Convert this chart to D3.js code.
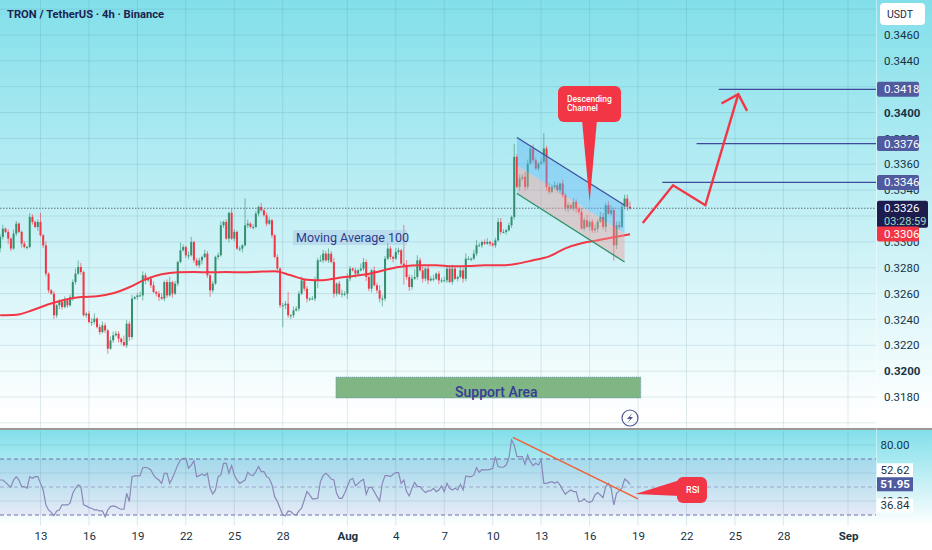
<!DOCTYPE html>
<html>
<head>
<meta charset="utf-8">
<script src="https://cdnjs.cloudflare.com/ajax/libs/d3/7.8.5/d3.min.js"></script>
<style>
  html, body { margin: 0; padding: 0; background: #fff; }
  svg { display: block; }
  text { font-family: Roboto, "Noto Sans", sans-serif; }
</style>
</head>
<body>
<svg id="chart" width="932" height="550"></svg>
<script>
// 4h candles. open = previous close
const firstCandle = '2025-07-10T12:00:00Z';
const closes = [
  .33038,.33102,.33077,.33025,.32948,.33064,.33141,.33077,.32986,.32960,
  .32960,.33193,.33154,.33115,.33154,.33051,.32973,.32754,.32625,.32599,
  .32432,.32509,.32535,.32496,.32548,.32509,.32573,.32689,.32754,.32806,
  .32767,.32432,.32445,.32380,.32380,.32406,.32341,.32302,.32354,.32315,
  .32174,.32238,.32277,.32290,.32251,.32225,.32199,.32367,.32264,.32561,
  .32573,.32586,.32586,.32741,.32702,.32715,.32664,.32612,.32599,.32573,
  .32561,.32689,.32586,.32689,.32599,.32677,.32844,.32935,.32960,.32896,
  .32896,.32999,.32857,.32819,.32857,.32883,.32909,.32741,.32625,.32677,
  .32883,.32896,.33128,.33154,.33025,.33224,.33025,.33077,.32948,.32948,
  .32973,.33128,.33141,.33115,.33115,.33218,.33270,.33244,.33206,.33141,
  .33167,.33051,.32883,.32793,.32509,.32509,.32522,.32432,.32432,.32470,
  .32483,.32599,.32702,.32638,.32561,.32561,.32561,.32702,.32857,.32857,
  .32909,.32857,.32909,.32844,.32599,.32677,.32599,.32599,.32599,.32715,
  .32793,.32780,.32754,.32780,.32793,.32844,.32728,.32638,.32780,.32664,
  .32625,.32561,.32561,.32870,.32948,.32883,.32870,.32922,.32935,.32831,
  .32819,.32728,.32651,.32715,.32728,.32857,.32780,.32715,.32793,.32702,
  .32715,.32715,.32754,.32702,.32702,.32702,.32793,.32690,.32793,.32715,
  .32728,.32780,.32715,.32870,.32870,.32870,.32909,.32973,.32973,.32999,
  .32986,.32999,.32986,.32973,.33012,.33154,.33077,.33077,.33090,.33128,
  .33193,.33658,.33425,.33490,.33503,.33425,.33606,.33722,.33632,.33567,
  .33606,.33619,.33722,.33425,.33387,.33425,.33438,.33400,.33451,.33361,
  .33258,.33284,.33258,.33309,.33258,.33232,.33103,.33168,.33116,.33155,
  .33090,.33103,.33155,.33193,.33116,.33284,.33219,.33245,.32974,.33129,
  .33116,.33271,.33335,.33271,.33258
];
// wicks in ticks of 0.0001 above / below the candle body
const upperWicks = [
  2,3,1,2,1,3,2,1,1,2, 1,3,2,1,2,7,1,3,1,1, 2,1,2,1,3,1,2,2,4,5,
  3,1,1,2,3,4,1,2,3,2, 1,3,3,2,2,1,5,3,2,3, 1,2,3,3,2,1,2,3,1,2,
  3,1,2,4,1,2,1,6,2,1, 3,4,1,2,2,1,3,2,1,2, 1,2,3,1,2,1,3,2,1,2,
  1,21,3,1,2,2,1,3,1,2, 2,1,1,2,1,2,2,9,1,3, 2,2,3,1,2,1,2,3,2,4,
  3,2,4,2,3,1,2,3,2,4, 2,1,2,1,4,3,2,2,1,3, 2,4,3,2,5,2,1,3,2,1,
  30,4,2,3,6,4,2,3,1,2, 2,3,1,2,2,3,2,1,3,2, 1,3,2,4,2,1,3,4,2,1,
  2,3,1,1,2,3,3,2,1,2, 1,10,2,3,2,4,3,2,3,2, 1,3,12,2,3,2,3,2,1,3,
  2,2,1,3,2,1,3,2,4,1, 2,3,2,4,3,2,3,4,2,3, 3,3,3,3,4
];
const lowerWicks = [
  3,2,1,4,2,1,2,1,3,1, 2,1,2,1,3,1,2,2,2,1, 3,2,3,2,1,2,1,3,2,1,
  2,1,2,1,3,2,1,2,1,2, 4,1,2,1,3,2,1,2,3,2, 1,2,1,4,3,1,2,1,2,3,
  1,2,2,1,3,1,2,1,1,2, 3,1,2,1,2,3,1,2,5,2, 1,2,1,2,1,3,1,2,1,2,
  3,1,2,1,2,1,2,1,1,2, 1,2,1,2,2,17,3,2,3,2, 1,2,1,2,3,2,1,2,6,1,
  2,1,2,1,3,2,1,3,2,4, 2,1,3,2,1,2,3,2,3,1, 2,3,6,2,1,2,3,1,2,1,
  15,2,3,2,1,2,1,3,2,3, 1,2,1,3,2,1,2,1,2,1, 2,1,3,2,1,2,1,2,1,2,
  1,1,2,1,2,1,2,1,2,1, 2,2,1,3,2,3,2,1,2,1, 2,1,2,3,2,1,2,2,3,2,
  2,3,1,2,3,2,1,2,1,3, 2,2,3,1,2,4,1,2,12,3, 2,1,2,3,1
];

// moving average 100, one reading per day at 12:00
const maFirstDay = '2025-07-10T12:00:00Z';
const maValues = [
  .32432,.32436,.32471,.32517,.32552,.32573,.32579,.32602,.32649,.32710,
  .32749,.32765,.32767,.32764,.32766,.32765,.32769,.32772,.32741,.32707,
  .32703,.32722,.32738,.32757,.32788,.32811,.32819,.32819,.32811,.32813,
  .32819,.32819,.32830,.32858,.32888,.32950,.32989,.33012,.33036,.33059
];

// RSI, one value per candle
const rsiValues = [
  55,55,53.3,51.5,49.8,55,57.4,55,50.3,50.3,
  49.1,57.4,56.2,57.4,57.4,52.6,47.9,37.2,33.6,31.9,
  29.5,32.9,33.6,37.2,37.2,37.2,38.4,45.5,49.1,51.5,
  50.3,37.2,36.5,35.3,34.8,33.6,33.6,32.9,32.9,28.8,
  33.6,36,36.5,36,34.8,34.1,34.1,45.5,39.6,57.4,
  57.9,57.9,58.1,63.8,64.1,63.4,62.2,58.6,56.2,55,
  52.6,59.8,59.8,52.6,56.2,61,65.7,69.3,70.5,70.5,
  63.4,65.7,68.6,57.4,58.1,59.3,58.1,59.8,49.1,45,
  47.9,57.4,58.6,66.9,66.9,59.8,65.3,58.6,55,52.6,
  53.8,55,60.5,58.6,58.1,61,64.6,61,61,57.4,
  56.2,51.5,43.1,39.6,34.8,30,29.5,32.9,32.4,30.5,
  30,32.9,34.8,40.7,46.7,44.3,41.5,41.5,41.9,53.8,
  58.1,59.8,58.1,55.7,
  55,45.5,41.9,41.9,45.5,50.3,55,56.2,
  50.7,52.6,54.3,55.5,44.8,49.8,49.8,46.7,43.1,40,
  52.6,58.1,58.1,57.4,59.1,60.3,60.3,52.6,55,46.7,
  43.6,49.1,53.3,50.3,50.3,47.9,46,47.2,47.4,49.1,
  46.7,47.9,50.7,46.7,52.6,49.1,47.9,49.1,47.9,51.9,
  47.9,57.9,57.4,57.4,58.6,63.8,60.5,62.4,62.2,62.2,
  62.6,63.4,71.7,64.6,64.1,64.1,65.7,70.5,83.6,80,
  71.7,71.7,71.7,66.2,72.9,68.1,65.3,66.9,65.7,69.3,
  52.6,52.6,53.3,53.8,52.6,53.8,51.5,47.9,44.8,46.7,
  47.9,46.7,46.7,39.6,40,41.5,39.6,39.1,40,44.3,
  46,44.3,42.4,50.3,52.6,49.1,37.2,45.5,47.2,49.1,
  55.7,54.3,51.95
];

const dateTicks = ['2025-07-13','2025-07-16','2025-07-19','2025-07-22','2025-07-25','2025-07-28',
  '2025-08-01','2025-08-04','2025-08-07','2025-08-10','2025-08-13','2025-08-16','2025-08-19',
  '2025-08-22','2025-08-25','2025-08-28','2025-09-01'];
const priceTicks = [.346,.344,.342,.340,.338,.336,.334,.332,.330,.328,.326,.324,.322,.320,.318];
const boldPrices = [.340,.320];
const rsiGrid = [80,60,40];

// drawings on the chart
const channelDates = ['2025-08-11T12:00:00Z','2025-08-18T04:00:00Z'];
const channelUpper = [.33807,.33283];
const channelMiddle = [.33593,.33066];
const channelLower = [.33374,.32844];
const targetPrices = [.3418,.3376,.3346];
const targetStarts = ['2025-08-24T00:00:00Z','2025-08-22T15:00:00Z','2025-08-20T12:00:00Z'];
const forecastDates = ['2025-08-19T07:00:00Z','2025-08-21T04:00:00Z','2025-08-23T04:00:00Z','2025-08-25T05:00:00Z'];
const forecastPrices = [.33146,.33438,.33283,.34142];
const arrowDates = ['2025-08-24T04:00:00Z','2025-08-25T05:00:00Z','2025-08-25T18:00:00Z'];
const arrowPrices = [.34070,.34142,.34013];
const supportDates = ['2025-07-31T07:00:00Z','2025-08-19T04:00:00Z'];
const supportPrices = [.31954,.31792];
const rsiTrendDates = ['2025-08-11T06:00:00Z','2025-08-19T00:00:00Z'];
const rsiTrendValues = [85.5,41.5];

const lastPrice = .3326, maPrice = .3306;

const svg = d3.select('#chart');
const axisX = 876;
const x = d3.scaleUtc().domain([new Date('2025-07-13'), new Date('2025-09-01')]).range([40.5, 848]);
const y = d3.scaleLinear().domain([.346, .318]).range([35, 397]);
const r = d3.scaleLinear().domain([70, 30]).range([459, 515]);

const defs = svg.append('defs');
function vGradient(id, y1, y2, top) {
  const g = defs.append('linearGradient').attr('id', id).attr('gradientUnits', 'userSpaceOnUse')
    .attr('x1', 0).attr('x2', 0).attr('y1', y1).attr('y2', y2);
  g.append('stop').attr('offset', 0).attr('stop-color', top);
  g.append('stop').attr('offset', 1).attr('stop-color', '#ffffff');
}
vGradient('mainBg', 0, 415, '#82dfea');
vGradient('rsiBg', 430, 526, '#82dfea');

svg.append('rect').attr('width', 932).attr('height', 429).attr('fill', 'url(#mainBg)');
svg.append('rect').attr('y', 430).attr('width', 932).attr('height', 120).attr('fill', 'url(#rsiBg)');

// grid
const dates = dateTicks.map(d => new Date(d));
const gridCol = 'rgba(70,130,150,0.17)';
svg.append('g').selectAll('line').data(dates).join('line')
  .attr('x1', d => x(d)).attr('x2', d => x(d)).attr('y1', 0).attr('y2', 428)
  .attr('stroke', gridCol);
svg.append('g').selectAll('line').data(dates).join('line')
  .attr('x1', d => x(d)).attr('x2', d => x(d)).attr('y1', 431).attr('y2', 526)
  .attr('stroke', gridCol);
svg.append('g').selectAll('line').data(priceTicks.concat([.348, .316])).join('line')
  .attr('x1', 0).attr('x2', axisX).attr('y1', d => y(d)).attr('y2', d => y(d))
  .attr('stroke', gridCol);
svg.append('g').selectAll('line').data(rsiGrid).join('line')
  .attr('x1', 0).attr('x2', axisX).attr('y1', d => r(d)).attr('y2', d => r(d))
  .attr('stroke', gridCol);

// candles
const step = 4 * 3600 * 1000;
const t0 = new Date(firstCandle).getTime();
const candles = closes.map((c, i) => {
  const o = i ? closes[i - 1] : .3295;
  return {
    date: new Date(t0 + i * step), o, c,
    h: Math.max(o, c) + upperWicks[i] * .0001,
    l: Math.min(o, c) - lowerWicks[i] * .0001
  };
});
const upCol = '#33906f', downCol = '#f23645';
const candleG = svg.append('g');
candleG.selectAll('line').data(candles).join('line')
  .attr('x1', d => x(d.date)).attr('x2', d => x(d.date))
  .attr('y1', d => y(d.h)).attr('y2', d => y(d.l))
  .attr('stroke', d => d.c >= d.o ? upCol : downCol)
  .attr('stroke-opacity', 0.6).attr('stroke-width', 1);
candleG.selectAll('rect').data(candles).join('rect')
  .attr('x', d => x(d.date) - 1)
  .attr('width', 2)
  .attr('y', d => y(Math.max(d.o, d.c)))
  .attr('height', d => Math.max(1, Math.abs(y(d.o) - y(d.c))))
  .attr('fill', d => d.c >= d.o ? upCol : downCol);

// moving average
const maStart = new Date(maFirstDay).getTime();
const maLine = d3.line().x((d, i) => x(new Date(maStart + i * 6 * step))).y(d => y(d)).curve(d3.curveMonotoneX);
svg.append('path').attr('d', maLine(maValues)).attr('fill', 'none')
  .attr('stroke', '#f23645').attr('stroke-width', 2);

// dotted last price line
svg.append('line').attr('x1', 0).attr('x2', axisX).attr('y1', y(lastPrice)).attr('y2', y(lastPrice))
  .attr('stroke', '#5f6f80').attr('stroke-width', 1).attr('stroke-dasharray', '1.5 1.5');

// descending channel
const cx = channelDates.map(d => x(new Date(d)));
function band(top, bottom) {
  return [[cx[0], y(top[0])], [cx[1], y(top[1])], [cx[1], y(bottom[1])], [cx[0], y(bottom[0])]];
}
svg.append('polygon').attr('points', band(channelUpper, channelMiddle).join(' '))
  .attr('fill', '#5cb6f5').attr('fill-opacity', 0.42);
svg.append('polygon').attr('points', band(channelMiddle, channelLower).join(' '))
  .attr('fill', '#ef9a9a').attr('fill-opacity', 0.42);
svg.append('line').attr('x1', cx[0]).attr('x2', cx[1]).attr('y1', y(channelUpper[0])).attr('y2', y(channelUpper[1]))
  .attr('stroke', '#3f4fa0').attr('stroke-width', 1.3);
svg.append('line').attr('x1', cx[0]).attr('x2', cx[1]).attr('y1', y(channelLower[0])).attr('y2', y(channelLower[1]))
  .attr('stroke', '#2f8f6b').attr('stroke-width', 1.3);

// targets
svg.append('g').selectAll('line').data(targetPrices).join('line')
  .attr('x1', (d, i) => x(new Date(targetStarts[i]))).attr('x2', axisX)
  .attr('y1', d => y(d)).attr('y2', d => y(d))
  .attr('stroke', '#3f4a9a').attr('stroke-width', 1.3);

// forecast arrow
const arrow = d3.line().x(d => x(new Date(d[0]))).y(d => y(d[1]));
svg.append('path').attr('d', arrow(d3.zip(forecastDates, forecastPrices)))
  .attr('fill', 'none').attr('stroke', '#f23645').attr('stroke-width', 2.4);
svg.append('path').attr('d', arrow(d3.zip(arrowDates, arrowPrices)))
  .attr('fill', 'none').attr('stroke', '#f23645').attr('stroke-width', 2.4);

// support area
const sx = supportDates.map(d => x(new Date(d)));
svg.append('rect').attr('x', sx[0]).attr('width', sx[1] - sx[0])
  .attr('y', y(supportPrices[0])).attr('height', y(supportPrices[1]) - y(supportPrices[0]))
  .attr('fill', '#80b584').attr('stroke', '#5f8fb0').attr('stroke-width', 0.7).attr('stroke-dasharray', '1 1');
svg.append('text').attr('x', (sx[0] + sx[1]) / 2 + 8).attr('y', 397).attr('text-anchor', 'middle')
  .attr('font-size', 14).attr('font-weight', 500).attr('fill', '#363c94').text('Support Area');

// moving average label
svg.append('rect').attr('x', 293).attr('y', 230).attr('width', 114).attr('height', 15)
  .attr('fill', '#a9c9e6').attr('fill-opacity', 0.5);
svg.append('text').attr('x', 296).attr('y', 242).attr('font-size', 12.5)
  .attr('fill', '#2f3a8a').text('Moving Average 100');

// lightning mark
const bolt = svg.append('g').attr('transform', 'translate(630,418)');
bolt.append('circle').attr('r', 8).attr('fill', 'none').attr('stroke', '#50558f').attr('stroke-width', 1.2);
bolt.append('path').attr('d', 'M2.5,-5 L-3,1 L0,1 L-2.5,5 L3,-1 L0,-1 Z').attr('fill', '#50558f');

// separator
svg.append('rect').attr('y', 428).attr('width', 932).attr('height', 2).attr('fill', '#9a9a94');

// RSI pane
svg.append('rect').attr('x', 0).attr('width', axisX).attr('y', r(70)).attr('height', r(30) - r(70))
  .attr('fill', '#7e57c2').attr('fill-opacity', 0.1);
svg.append('g').selectAll('line').data([70, 30]).join('line')
  .attr('x1', 0).attr('x2', axisX).attr('y1', d => r(d)).attr('y2', d => r(d))
  .attr('stroke', '#6f6fa8').attr('stroke-dasharray', '4 3');
svg.append('line').attr('x1', 0).attr('x2', axisX).attr('y1', r(50)).attr('y2', r(50))
  .attr('stroke', '#6f6fa8').attr('stroke-opacity', 0.5).attr('stroke-dasharray', '4 3');
const rsiLine = d3.line().x((d, i) => x(new Date(t0 + i * step))).y(d => r(d));
svg.append('path').attr('d', rsiLine(rsiValues)).attr('fill', 'none')
  .attr('stroke', '#8a88b8').attr('stroke-width', 1.2);
svg.append('line')
  .attr('x1', x(new Date(rsiTrendDates[0]))).attr('y1', r(rsiTrendValues[0]))
  .attr('x2', x(new Date(rsiTrendDates[1]))).attr('y2', r(rsiTrendValues[1]))
  .attr('stroke', '#ef6038').attr('stroke-width', 1.5);

// callouts
const calloutRed = '#f23645';
function callout(bx, by, bw, bh, path, lines, tx, ty, size) {
  svg.append('path').attr('d', path).attr('fill', calloutRed);
  svg.append('rect').attr('x', bx).attr('y', by).attr('width', bw).attr('height', bh).attr('rx', 6).attr('fill', calloutRed);
  lines.forEach((l, i) => svg.append('text').attr('x', tx).attr('y', ty + i * 9.5)
    .attr('font-size', size).attr('font-weight', 500).attr('fill', '#fff').text(l));
}
const chTipX = x(new Date('2025-08-16T00:00:00Z')), chTipY = y(.33306);
callout(558, 86, 63, 36, `M582,120 L597,120 L${chTipX},${chTipY} Z`, ['Descending', 'Channel'], 567, 101.5, 8.5);
const rsiTipX = x(new Date('2025-08-18T20:00:00Z')), rsiTipY = r(45);
callout(677, 477, 30, 26, `M680,480 L680,496 L${rsiTipX},${rsiTipY} Z`, ['RSI'], 686, 493, 9);

// right price axis
svg.append('line').attr('x1', axisX + .5).attr('x2', axisX + .5).attr('y1', 0).attr('y2', 526)
  .attr('stroke', '#ffffff').attr('stroke-opacity', 0.45);
const yAxis = d3.axisRight(y).tickValues(priceTicks).tickSize(0).tickPadding(0).tickFormat(d3.format('.4f'));
const yg = svg.append('g').attr('transform', 'translate(884,0)').call(yAxis);
yg.select('.domain').remove();
yg.selectAll('text').attr('font-size', 11.5).attr('fill', '#173344')
  .attr('font-family', 'Roboto, sans-serif')
  .attr('font-weight', d => boldPrices.includes(d) ? 700 : 400);

svg.append('rect').attr('x', 880).attr('y', 3).attr('width', 45).attr('height', 22).attr('rx', 4).attr('fill', '#fff');
svg.append('text').attr('x', 887).attr('y', 18).attr('font-size', 10.5).attr('fill', '#1c2b45').text('USDT');

function priceTag(value, fill) {
  const cy = y(value);
  svg.append('rect').attr('x', 877).attr('y', cy - 7.5).attr('width', 42).attr('height', 15).attr('rx', 2).attr('fill', fill);
  svg.append('text').attr('x', 884).attr('y', cy + 4).attr('font-size', 11.5).attr('fill', '#fff').text(d3.format('.4f')(value));
}
targetPrices.forEach(p => priceTag(p, '#4f5b9e'));
svg.append('rect').attr('x', 877).attr('y', y(lastPrice) - 7.5).attr('width', 51).attr('height', 27).attr('rx', 2).attr('fill', '#1d1c4f');
svg.append('text').attr('x', 884).attr('y', y(lastPrice) + 4).attr('font-size', 11.5).attr('fill', '#fff').text(d3.format('.4f')(lastPrice));
svg.append('text').attr('x', 884).attr('y', y(lastPrice) + 16.5).attr('font-size', 11).attr('fill', '#9fd8c4').text('03:28:59');
priceTag(maPrice, '#f23645');

// RSI axis labels
const rsiAxisText = (v, fill, weight) => svg.append('text').attr('x', 895).attr('y', r(v) + 4)
  .attr('text-anchor', 'middle').attr('font-size', 11.5).attr('fill', fill).attr('font-weight', weight || 400);
rsiAxisText(80, '#173344').text('80.00');
rsiAxisText(40, '#173344').text('40.00');
function rsiTag(v, dy, fill, col, weight) {
  svg.append('rect').attr('x', 877).attr('y', r(v) - 7 + dy).attr('width', 36).attr('height', 14).attr('fill', fill);
  rsiAxisText(v, col, weight).attr('y', r(v) + 4 + dy).text(d3.format('.2f')(v));
}
rsiTag(52.62, -13, '#ffffff', '#173344');
rsiTag(36.84, 0, '#ffffff', '#173344');
rsiTag(51.95, 0, '#4f5b9e', '#ffffff', 700);

// time axis
const fmt = d => d.getUTCDate() === 1 ? d3.utcFormat('%b')(d) : d3.utcFormat('%-d')(d);
const xAxis = d3.axisBottom(x).tickValues(dates).tickSize(0).tickPadding(0).tickFormat(fmt);
const xg = svg.append('g').attr('transform', 'translate(0,532)').call(xAxis);
xg.select('.domain').remove();
xg.selectAll('text').attr('font-size', 11.5).attr('fill', '#173344')
  .attr('font-family', 'Roboto, sans-serif')
  .attr('font-weight', d => d.getUTCDate() === 1 ? 700 : 400);

// title
svg.append('text').attr('x', 7).attr('y', 18).attr('font-size', 11.2).attr('font-weight', 700)
  .attr('fill', '#1b2350').text('TRON / TetherUS · 4h · Binance');
</script>
</body>
</html>
